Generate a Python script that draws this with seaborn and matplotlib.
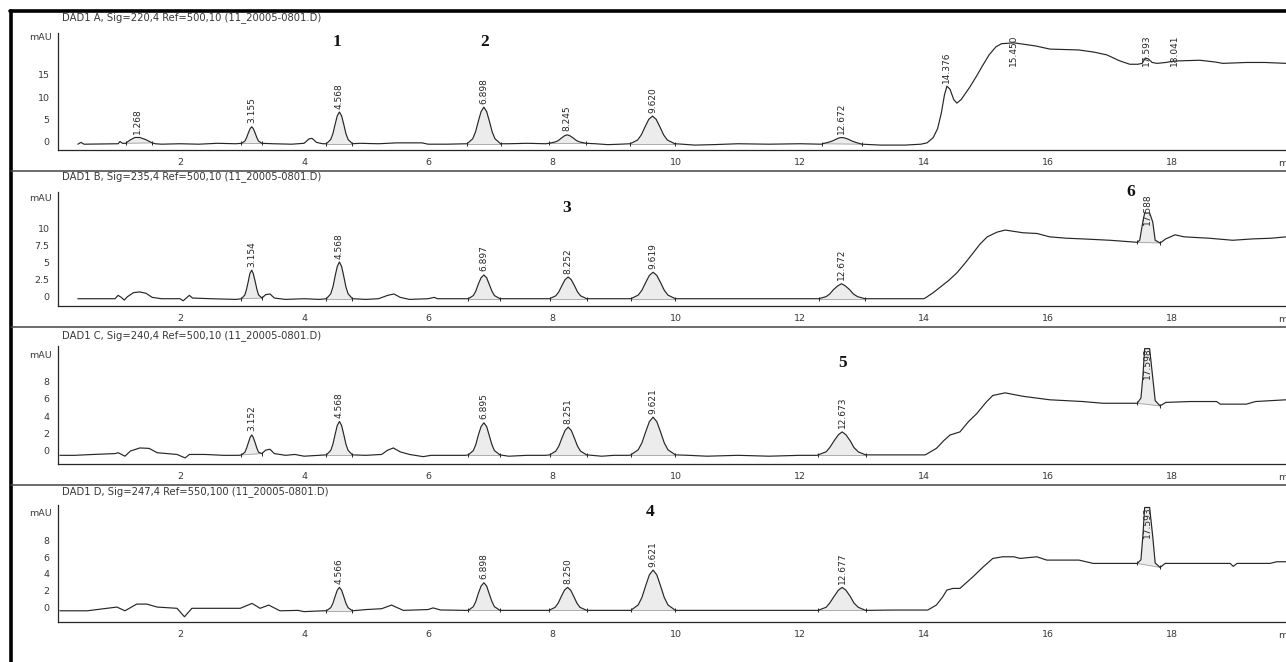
import numpy as np
import matplotlib
matplotlib.use("Agg")
import matplotlib.pyplot as plt
from matplotlib.lines import Line2D
from matplotlib.ticker import FixedLocator, MultipleLocator
import seaborn as sns

# ---- traces: (time in min, signal in mAU) ----
a_trace = [
    (0.35, -0.5), (0.40, -0.1), (0.45, -0.5), (1.0, -0.4), (1.03, 0.1), (1.07, -0.3),
    (1.12, -0.3), (1.2, 0.5), (1.27, 1.0), (1.35, 1.0), (1.45, 0.5), (1.55, -0.2),
    (1.6, -0.4), (1.7, -0.5), (2.0, -0.4), (2.3, -0.5), (2.6, -0.3), (2.9, -0.4),
    (2.99, -0.3), (3.045, 0.2), (3.07, 0.9), (3.1, 2.0), (3.13, 3.0), (3.155, 3.4),
    (3.18, 3.0), (3.21, 2.0), (3.24, 0.9), (3.265, 0.2), (3.32, -0.3),
    (3.5, -0.4), (3.8, -0.5), (4.0, -0.3), (4.08, 0.7), (4.13, 0.8), (4.2, -0.1), (4.3, -0.4),
    (4.36, -0.4), (4.43, 0.56), (4.465, 1.87), (4.5, 3.93), (4.535, 5.85), (4.57, 6.7),
    (4.605, 5.85), (4.64, 3.93), (4.675, 1.87), (4.71, 0.56), (4.78, -0.4),
    (4.9, -0.3), (5.2, -0.4), (5.5, -0.2), (5.9, -0.2), (6.0, -0.5), (6.3, -0.5), (6.6, -0.4),
    (6.63, -0.4), (6.72, 0.71), (6.765, 2.22), (6.81, 4.6), (6.855, 6.8), (6.9, 7.8),
    (6.945, 6.8), (6.99, 4.6), (7.035, 2.22), (7.08, 0.71), (7.17, -0.4),
    (7.3, -0.4), (7.6, -0.3), (7.9, -0.4),
    (7.95, -0.3), (8.05, 0.0), (8.1, 0.3), (8.15, 0.86), (8.2, 1.37), (8.245, 1.6),
    (8.29, 1.37), (8.345, 0.86), (8.395, 0.3), (8.445, 0.0), (8.55, -0.3),
    (8.7, -0.4), (8.9, -0.6), (9.1, -0.5), (9.25, -0.4),
    (9.26, -0.4), (9.38, 0.44), (9.44, 1.58), (9.5, 3.38), (9.56, 5.06), (9.62, 5.8),
    (9.68, 5.06), (9.74, 3.38), (9.8, 1.58), (9.86, 0.44), (9.98, -0.4),
    (10.1, -0.5), (10.3, -0.7), (10.6, -0.6), (11.0, -0.4), (11.5, -0.5), (12.0, -0.4), (12.35, -0.5),
    (12.36, -0.4), (12.45, -0.1), (12.52, 0.2), (12.58, 0.6), (12.63, 0.9), (12.67, 1.0),
    (12.72, 0.9), (12.78, 0.6), (12.84, 0.2), (12.9, -0.1), (13.0, -0.5),
    (13.3, -0.7), (13.7, -0.7), (13.95, -0.5),
    (14.05, -0.2), (14.15, 1.0), (14.22, 3.0), (14.28, 6.5), (14.33, 10.5), (14.37, 12.5),
    (14.42, 11.8), (14.48, 9.5), (14.53, 8.7), (14.6, 9.5), (14.74, 12.3), (14.85, 14.8),
    (14.95, 17.2), (15.05, 19.5), (15.16, 21.3), (15.25, 22.0), (15.34, 22.1), (15.45, 22.2),
    (15.6, 21.9), (15.8, 21.5), (16.03, 20.8), (16.5, 20.6), (16.75, 20.1), (16.95, 19.5),
    (17.15, 18.2), (17.32, 17.4), (17.45, 17.4), (17.52, 17.6), (17.57, 18.8), (17.62, 18.6),
    (17.68, 17.8), (17.76, 17.6), (17.9, 17.8), (18.02, 18.1), (18.2, 18.2), (18.45, 18.3),
    (18.7, 17.9), (18.82, 17.6), (19.2, 17.8), (19.5, 17.8), (19.84, 17.6),
]

b_trace = [
    (0.35, -0.4), (0.5, -0.4), (0.95, -0.4), (1.0, 0.1), (1.05, -0.2), (1.1, -0.6),
    (1.15, -0.1), (1.25, 0.5), (1.35, 0.6), (1.45, 0.4), (1.55, -0.2), (1.7, -0.4),
    (2.0, -0.4), (2.05, -0.7), (2.1, -0.3), (2.15, 0.1), (2.2, -0.3), (2.5, -0.4), (2.9, -0.5),
    (2.99, -0.4), (3.045, 0.17), (3.07, 0.94), (3.1, 2.16), (3.125, 3.3), (3.155, 3.8),
    (3.18, 3.3), (3.21, 2.16), (3.24, 0.94), (3.265, 0.17), (3.32, -0.3),
    (3.38, 0.2), (3.45, 0.3), (3.52, -0.3), (3.7, -0.5), (4.0, -0.4), (4.25, -0.5),
    (4.36, -0.4), (4.43, 0.33), (4.465, 1.33), (4.5, 2.9), (4.535, 4.35), (4.57, 5.0),
    (4.605, 4.35), (4.64, 2.9), (4.675, 1.33), (4.71, 0.33), (4.78, -0.4),
    (5.0, -0.5), (5.2, -0.4), (5.35, 0.1), (5.45, 0.3), (5.55, -0.2), (5.7, -0.5),
    (6.0, -0.4), (6.1, -0.2), (6.15, -0.4), (6.6, -0.4),
    (6.65, -0.4), (6.73, 0.07), (6.77, 0.72), (6.81, 1.74), (6.855, 2.68), (6.9, 3.1),
    (6.945, 2.68), (6.985, 1.74), (7.03, 0.72), (7.07, 0.07), (7.16, -0.4),
    (7.4, -0.4), (7.9, -0.4),
    (7.96, -0.4), (8.06, 0.03), (8.11, 0.62), (8.16, 1.55), (8.21, 2.4), (8.26, 2.8),
    (8.31, 2.4), (8.36, 1.55), (8.41, 0.62), (8.46, 0.03), (8.56, -0.4),
    (8.8, -0.4), (9.25, -0.4),
    (9.27, -0.4), (9.39, 0.13), (9.45, 0.85), (9.51, 1.98), (9.57, 3.03), (9.63, 3.5),
    (9.69, 3.03), (9.75, 1.98), (9.81, 0.85), (9.87, 0.13), (9.99, -0.4),
    (10.2, -0.4), (11.0, -0.4), (12.28, -0.4),
    (12.3, -0.4), (12.42, -0.1), (12.48, 0.3), (12.54, 0.94), (12.61, 1.5), (12.67, 1.8),
    (12.73, 1.5), (12.8, 0.94), (12.86, 0.3), (12.93, -0.1), (13.05, -0.4),
    (13.5, -0.4), (14.0, -0.4),
    (14.02, -0.3), (14.15, 0.5), (14.26, 1.3), (14.4, 2.3), (14.53, 3.4), (14.66, 4.8),
    (14.79, 6.3), (14.9, 7.6), (15.02, 8.7), (15.18, 9.4), (15.31, 9.7), (15.45, 9.5),
    (15.6, 9.3), (15.82, 9.2), (16.03, 8.7), (16.3, 8.5), (16.56, 8.4), (17.0, 8.2),
    (17.3, 8.0), (17.44, 7.9), (17.48, 8.2), (17.53, 10.9), (17.56, 12.2), (17.64, 12.2),
    (17.69, 10.9), (17.73, 8.2), (17.81, 7.8), (17.9, 8.4), (18.05, 9.0), (18.2, 8.7),
    (18.6, 8.5), (18.98, 8.2), (19.3, 8.4), (19.6, 8.5), (19.84, 8.7),
]

c_trace = [
    (0.06, -0.5), (0.3, -0.5), (0.6, -0.4), (0.95, -0.3), (1.0, -0.2), (1.11, -0.6),
    (1.2, 0.0), (1.35, 0.35), (1.5, 0.3), (1.63, -0.2), (1.8, -0.3), (1.95, -0.4),
    (2.08, -0.8), (2.15, -0.4), (2.4, -0.4), (2.7, -0.5), (2.95, -0.5),
    (2.99, -0.45), (3.045, -0.14), (3.07, 0.29), (3.1, 0.95), (3.13, 1.57), (3.155, 1.85),
    (3.18, 1.57), (3.21, 0.95), (3.24, 0.29), (3.265, -0.14), (3.32, -0.3),
    (3.38, 0.1), (3.45, 0.2), (3.52, -0.3), (3.7, -0.5), (3.85, -0.4), (4.0, -0.6), (4.25, -0.5),
    (4.36, -0.45), (4.43, 0.07), (4.465, 0.78), (4.5, 1.9), (4.535, 2.94), (4.57, 3.4),
    (4.605, 2.94), (4.64, 1.9), (4.675, 0.78), (4.71, 0.07), (4.78, -0.45),
    (5.0, -0.5), (5.25, -0.4), (5.35, 0.1), (5.44, 0.35), (5.55, -0.1), (5.7, -0.4),
    (5.92, -0.65), (6.05, -0.5), (6.6, -0.5),
    (6.65, -0.45), (6.73, 0.05), (6.77, 0.73), (6.81, 1.81), (6.855, 2.81), (6.9, 3.25),
    (6.945, 2.81), (6.985, 1.81), (7.03, 0.73), (7.07, 0.05), (7.16, -0.45),
    (7.3, -0.6), (7.6, -0.5), (7.9, -0.5),
    (7.96, -0.45), (8.06, -0.02), (8.11, 0.57), (8.16, 1.5), (8.21, 2.37), (8.26, 2.75),
    (8.31, 2.37), (8.36, 1.5), (8.41, 0.57), (8.46, -0.02), (8.56, -0.45),
    (8.8, -0.6), (9.0, -0.5), (9.25, -0.5),
    (9.27, -0.45), (9.39, 0.14), (9.45, 0.94), (9.51, 2.2), (9.57, 3.38), (9.63, 3.9),
    (9.69, 3.38), (9.75, 2.2), (9.81, 0.94), (9.87, 0.14), (9.99, -0.45),
    (10.2, -0.5), (10.5, -0.6), (11.0, -0.5), (11.5, -0.6), (12.0, -0.5), (12.28, -0.5),
    (12.29, -0.45), (12.42, -0.1), (12.48, 0.4), (12.55, 1.17), (12.62, 1.88), (12.68, 2.2),
    (12.74, 1.88), (12.81, 1.17), (12.87, 0.4), (12.94, -0.1), (13.06, -0.45),
    (13.5, -0.45), (14.02, -0.45),
    (14.2, 0.3), (14.32, 1.2), (14.42, 1.84), (14.58, 2.2), (14.72, 3.4), (14.85, 4.3),
    (15.0, 5.6), (15.11, 6.4), (15.31, 6.7), (15.6, 6.3), (16.03, 5.9), (16.56, 5.7),
    (16.89, 5.5), (17.44, 5.5), (17.5, 6.1), (17.53, 8.5), (17.56, 11.8), (17.64, 11.8),
    (17.69, 8.5), (17.73, 5.8), (17.81, 5.2), (17.9, 5.6), (18.3, 5.7), (18.72, 5.7),
    (18.78, 5.4), (19.2, 5.4), (19.35, 5.7), (19.84, 5.9),
]

d_trace = [
    (0.06, -0.45), (0.5, -0.45), (0.98, 0.0), (1.11, -0.45), (1.3, 0.36), (1.46, 0.36),
    (1.63, 0.0), (1.95, -0.15), (2.07, -1.17), (2.19, -0.15), (2.97, -0.15), (3.16, 0.44),
    (3.29, -0.15), (3.43, 0.24), (3.61, -0.45), (3.9, -0.4), (4.0, -0.55), (4.3, -0.45),
    (4.36, -0.45), (4.43, -0.07), (4.465, 0.45), (4.5, 1.27), (4.535, 2.03), (4.57, 2.37),
    (4.605, 2.03), (4.64, 1.27), (4.675, 0.45), (4.71, -0.07), (4.78, -0.45),
    (5.0, -0.3), (5.25, -0.2), (5.41, 0.24), (5.6, -0.4), (6.0, -0.3), (6.08, -0.1),
    (6.2, -0.35), (6.6, -0.4),
    (6.65, -0.4), (6.73, 0.05), (6.77, 0.67), (6.81, 1.63), (6.855, 2.53), (6.9, 2.93),
    (6.945, 2.53), (6.985, 1.63), (7.03, 0.67), (7.07, 0.05), (7.16, -0.4),
    (7.5, -0.4), (7.9, -0.4),
    (7.95, -0.4), (8.05, -0.03), (8.1, 0.49), (8.15, 1.29), (8.2, 2.04), (8.25, 2.37),
    (8.3, 2.04), (8.35, 1.29), (8.4, 0.49), (8.45, -0.03), (8.56, -0.4),
    (8.9, -0.4), (9.25, -0.4),
    (9.27, -0.4), (9.39, 0.26), (9.45, 1.16), (9.51, 2.56), (9.57, 3.88), (9.63, 4.46),
    (9.69, 3.88), (9.75, 2.56), (9.81, 1.16), (9.87, 0.26), (9.99, -0.4),
    (10.5, -0.4), (11.5, -0.4), (12.28, -0.4),
    (12.29, -0.4), (12.42, -0.03), (12.48, 0.49), (12.55, 1.29), (12.62, 2.04), (12.68, 2.37),
    (12.74, 2.04), (12.81, 1.29), (12.87, 0.49), (12.94, -0.03), (13.06, -0.4),
    (13.5, -0.36), (14.06, -0.36),
    (14.2, 0.24), (14.3, 1.2), (14.37, 2.05), (14.47, 2.25), (14.58, 2.25), (14.79, 3.65),
    (14.95, 4.8), (15.11, 5.86), (15.27, 6.06), (15.45, 6.06), (15.55, 5.86), (15.82, 6.06),
    (15.98, 5.66), (16.5, 5.66), (16.73, 5.26), (17.44, 5.26), (17.5, 5.7), (17.53, 8.5),
    (17.56, 12.0), (17.64, 12.0), (17.69, 8.5), (17.73, 5.3), (17.81, 4.78), (17.89, 5.26),
    (18.94, 5.26), (18.99, 4.9), (19.05, 5.26), (19.58, 5.26), (19.69, 5.46), (19.84, 5.46),
]

# ---- peak tables: retention time label, apex position, apex height ----
a_rt = ["1.268", "3.155", "4.568", "6.898", "8.245", "9.620", "12.672", "14.376", "15.450", "17.593", "18.041"]
a_apex_t = [1.31, 3.155, 4.57, 6.9, 8.245, 9.62, 12.67, 14.37, 15.45, 17.59, 18.04]
a_apex_y = [1.0, 3.4, 6.7, 7.8, 1.6, 5.8, 1.0, 12.5, 22.2, 18.8, 18.1]
a_start = [1.12, 2.99, 4.36, 6.63, 7.95, 9.26, 12.36]
a_end = [1.55, 3.32, 4.78, 7.17, 8.55, 9.98, 13.0]

b_rt = ["3.154", "4.568", "6.897", "8.252", "9.619", "12.672", "17.588"]
b_apex_t = [3.155, 4.57, 6.9, 8.26, 9.63, 12.67, 17.6]
b_apex_y = [3.8, 5.0, 3.1, 2.8, 3.5, 1.8, 12.2]
b_start = [2.99, 4.36, 6.65, 7.96, 9.27, 12.3, 17.44]
b_end = [3.32, 4.78, 7.16, 8.56, 9.99, 13.05, 17.81]

c_rt = ["3.152", "4.568", "6.895", "8.251", "9.621", "12.673", "17.598"]
c_apex_t = [3.155, 4.57, 6.9, 8.26, 9.63, 12.68, 17.6]
c_apex_y = [1.85, 3.4, 3.25, 2.75, 3.9, 2.2, 11.8]
c_start = [2.99, 4.36, 6.65, 7.96, 9.27, 12.29, 17.44]
c_end = [3.32, 4.78, 7.16, 8.56, 9.99, 13.06, 17.81]

d_rt = ["4.566", "6.898", "8.250", "9.621", "12.677", "17.593"]
d_apex_t = [4.57, 6.9, 8.25, 9.63, 12.68, 17.6]
d_apex_y = [2.37, 2.93, 2.37, 4.46, 2.37, 12.0]
d_start = [4.36, 6.65, 7.95, 9.27, 12.29, 17.44]
d_end = [4.78, 7.16, 8.56, 9.99, 13.06, 17.81]

# compound numbers written on the chart
a_num = ["1", "2"]
a_num_t = [4.53, 6.92]
a_num_y = [22.4, 22.4]
b_num = ["3", "6"]
b_num_t = [8.23, 17.34]
b_num_y = [12.9, 15.3]
c_num = ["5"]
c_num_t = [12.69]
c_num_y = [10.1]
d_num = ["4"]
d_num_t = [9.58]
d_num_y = [11.4]

titles = [
    "DAD1 A, Sig=220,4 Ref=500,10 (11_20005-0801.D)",
    "DAD1 B, Sig=235,4 Ref=500,10 (11_20005-0801.D)",
    "DAD1 C, Sig=240,4 Ref=500,10 (11_20005-0801.D)",
    "DAD1 D, Sig=247,4 Ref=550,100 (11_20005-0801.D)",
]
x_ticks = [2, 4, 6, 8, 10, 12, 14, 16, 18]

sns.set_style("white")
plt.rcParams["font.family"] = ["DejaVu Sans"]

W, H = 1286, 662
fig = plt.figure(figsize=(W / 100, H / 100), dpi=100)
INK = "#262626"
TXT = "#383838"


def px_axes(top, bottom, left=58, right=1286):
    return fig.add_axes([left / W, 1 - bottom / H, (right - left) / W, (bottom - top) / H])


panels = [
    dict(trace=a_trace, rt=a_rt, at=a_apex_t, ay=a_apex_y, s=a_start, e=a_end,
         num=a_num, nt=a_num_t, ny=a_num_y, box=(33, 150), ylim=(-1.8, 24.4),
         yt=[0, 5, 10, 15], ytl=["0", "5", "10", "15"], minor=1.0, mau=38, ty=18),
    dict(trace=b_trace, rt=b_rt, at=b_apex_t, ay=b_apex_y, s=b_start, e=b_end,
         num=b_num, nt=b_num_t, ny=b_num_y, box=(192, 306), ylim=(-1.47, 15.3),
         yt=[0, 2.5, 5, 7.5, 10], ytl=["0", "2.5", "5", "7.5", "10"], minor=0.5, mau=198, ty=177),
    dict(trace=c_trace, rt=c_rt, at=c_apex_t, ay=c_apex_y, s=c_start, e=c_end,
         num=c_num, nt=c_num_t, ny=c_num_y, box=(346, 464), ylim=(-1.5, 12.1),
         yt=[0, 2, 4, 6, 8], ytl=["0", "2", "4", "6", "8"], minor=0.5, mau=355, ty=336),
    dict(trace=d_trace, rt=d_rt, at=d_apex_t, ay=d_apex_y, s=d_start, e=d_end,
         num=d_num, nt=d_num_t, ny=d_num_y, box=(505, 622), ylim=(-1.8, 12.3),
         yt=[0, 2, 4, 6, 8], ytl=["0", "2", "4", "6", "8"], minor=0.5, mau=513, ty=492),
]

peak_texts = []
for p, title in zip(panels, titles):
    ax = px_axes(*p["box"])
    t = np.array([q[0] for q in p["trace"]])
    v = np.array([q[1] for q in p["trace"]])

    # shaded integrated areas
    for s, e in zip(p["s"], p["e"]):
        m = (t >= s) & (t <= e)
        tt, vv = t[m], v[m]
        base = np.interp(tt, [tt[0], tt[-1]], [vv[0], vv[-1]])
        ax.fill_between(tt, vv, base, color="#ececec", lw=0, zorder=1)
        ax.plot(tt[[0, -1]], vv[[0, -1]], color="#a0a0a0", lw=0.6, zorder=1.5)
        ax.scatter(tt[[0, -1]], vv[[0, -1]], marker="|", s=12, color=INK, lw=0.7, zorder=3)

    sns.lineplot(x=t, y=v, ax=ax, color=INK, linewidth=0.85, sort=False, estimator=None, zorder=2)

    ax.set_xlim(0.03, 19.84)
    ax.set_ylim(*p["ylim"])
    ax.set_xlabel("")
    ax.set_ylabel("")
    ax.xaxis.set_major_locator(FixedLocator(x_ticks))
    ax.set_xticklabels([str(x) for x in x_ticks])
    ax.xaxis.set_minor_locator(MultipleLocator(0.5))
    ax.yaxis.set_major_locator(FixedLocator(p["yt"]))
    ax.set_yticklabels(p["ytl"])
    ax.yaxis.set_minor_locator(MultipleLocator(p["minor"]))
    ax.tick_params(axis="both", which="major", length=4, width=0.8, color=INK,
                   labelsize=6.8, labelcolor=TXT, pad=2, direction="out")
    ax.tick_params(axis="both", which="minor", length=2.2, width=0.7, color=INK, direction="out")
    for side in ["top", "right"]:
        ax.spines[side].set_visible(False)
    for side in ["left", "bottom"]:
        ax.spines[side].set_color(INK)
        ax.spines[side].set_linewidth(0.9)
    ax.patch.set_alpha(0)

    for lab, x, y in zip(p["rt"], p["at"], p["ay"]):
        txt = ax.annotate(lab, xy=(x, y), xytext=(0, 2.5), textcoords="offset points",
                          rotation=90, ha="center", va="bottom", fontsize=6.5, color=INK)
        peak_texts.append((ax, txt))

    for lab, x, y in zip(p["num"], p["nt"], p["ny"]):
        ax.text(x, y, lab, fontfamily="Liberation Serif", fontweight="bold", fontsize=12.5,
                ha="center", va="center", color="#111111", clip_on=False)

    # axis unit, cut by the right edge as in the original printout
    ax.annotate("min", xy=(1, 0), xycoords="axes fraction", xytext=(-8, -13),
                textcoords="offset pixels", ha="left", va="center", fontsize=6.8, color=TXT,
                annotation_clip=False)

    fig.text(52 / W, 1 - p["mau"] / H, "mAU", ha="right", va="center", fontsize=6.8, color=TXT)
    fig.text(62 / W, 1 - p["ty"] / H, title, ha="left", va="center", fontsize=7.2, color=TXT)

# keep retention time labels inside their panel, like the data system does
fig.canvas.draw()
for ax, txt in peak_texts:
    top = ax.get_window_extent().y1
    bb = txt.get_window_extent()
    over = bb.y1 - (top - 1)
    if over > 0:
        txt.set_position((0, 2.5 - over * 72 / fig.dpi))

# frame and panel separators
fig.add_artist(Line2D([10 / W, 1], [1 - 11 / H] * 2, color="black", lw=2.6))
fig.add_artist(Line2D([11 / W] * 2, [0, 1 - 11 / H], color="black", lw=2.6))
for y in [171, 327, 485]:
    fig.add_artist(Line2D([11 / W, 1], [1 - y / H] * 2, color="#444444", lw=1.1))

fig.savefig("out.png", dpi=100, facecolor="white")
